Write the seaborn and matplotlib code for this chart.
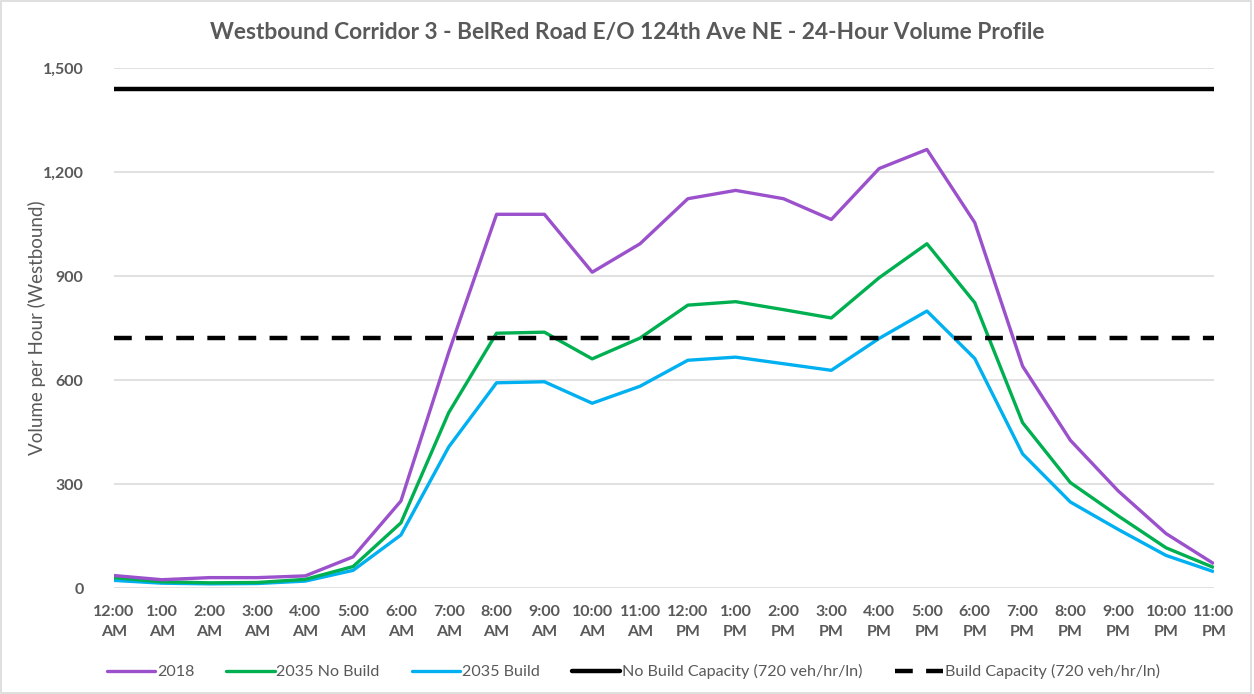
import matplotlib
matplotlib.use("Agg")
import matplotlib.pyplot as plt
import seaborn as sns
import pandas as pd
from matplotlib.patches import Rectangle
from matplotlib.ticker import FuncFormatter

# ---------------- data ----------------
hour_labels = ["12:00\nAM", "1:00\nAM", "2:00\nAM", "3:00\nAM", "4:00\nAM", "5:00\nAM",
               "6:00\nAM", "7:00\nAM", "8:00\nAM", "9:00\nAM", "10:00\nAM", "11:00\nAM",
               "12:00\nPM", "1:00\nPM", "2:00\nPM", "3:00\nPM", "4:00\nPM", "5:00\nPM",
               "6:00\nPM", "7:00\nPM", "8:00\nPM", "9:00\nPM", "10:00\nPM", "11:00\nPM"]

vol_2018 = [36, 24, 30, 30, 35, 90, 251, 680, 1078, 1078, 911, 993,
            1123, 1147, 1123, 1063, 1210, 1265, 1054, 640, 426, 280, 157, 70]
vol_2035_no_build = [30, 18, 15, 16, 25, 62, 188, 506, 735, 738, 661, 721,
                     816, 826, 803, 779, 895, 993, 823, 477, 304, 208, 116, 59]
vol_2035_build = [22, 14, 12, 13, 20, 51, 153, 407, 592, 595, 533, 582,
                  657, 666, 647, 628, 720, 799, 662, 387, 248, 169, 94, 47]
no_build_capacity = 1440
build_capacity = 720

series_names = ["2018", "2035 No Build", "2035 Build",
                "No Build Capacity (720 veh/hr/ln)", "Build Capacity (720 veh/hr/ln)"]
y_ticks = [0, 300, 600, 900, 1200, 1500]

# ---------------- build table ----------------
n = len(hour_labels)
rows = []
for name, vals in zip(series_names,
                      [vol_2018, vol_2035_no_build, vol_2035_build,
                       [no_build_capacity] * n, [build_capacity] * n]):
    for i, v in enumerate(vals):
        rows.append({"hour": i, "volume": v, "series": name})
df = pd.DataFrame(rows)

# ---------------- style ----------------
sns.set_theme(style="white")
plt.rcParams["font.family"] = ["Lato", "DejaVu Sans"]
grey = "#595959"

palette = {
    "2018": "#9B51CC",
    "2035 No Build": "#00B050",
    "2035 Build": "#00B0F0",
    "No Build Capacity (720 veh/hr/ln)": "#000000",
    "Build Capacity (720 veh/hr/ln)": "#000000",
}
dashes = {
    "2018": "",
    "2035 No Build": "",
    "2035 Build": "",
    "No Build Capacity (720 veh/hr/ln)": "",
    "Build Capacity (720 veh/hr/ln)": (4, 3),
}

fig = plt.figure(figsize=(12.54, 6.94), dpi=100)
ax = fig.add_axes([0.0909, 0.1527, 0.968 - 0.0909, 0.902 - 0.1527])

sns.lineplot(data=df, x="hour", y="volume", hue="series", style="series",
             palette=palette, dashes=dashes, hue_order=series_names,
             style_order=series_names, ax=ax, legend=True)

lines = ax.get_lines()
widths = [2.4, 2.4, 2.4, 3.2, 3.2]
zorders = [4, 3, 2, 5, 5]
for ln, w, z in zip(lines[:5], widths, zorders):
    ln.set_linewidth(w)
    ln.set_zorder(z)
    ln.set_solid_capstyle("butt")

ax.set_xlim(0, n - 1)
ax.set_ylim(0, 1500)
ax.set_yticks(y_ticks)
ax.yaxis.set_major_formatter(FuncFormatter(lambda v, p: f"{int(v):,}"))
ax.set_xticks(range(n))
ax.set_xticklabels(hour_labels)
ax.tick_params(axis="both", length=0, colors=grey, labelsize=11.5)
ax.tick_params(axis="x", pad=12)
ax.tick_params(axis="y", pad=22)
for t in ax.get_xticklabels() + ax.get_yticklabels():
    t.set_fontweight("bold")
    t.set_linespacing(1.55)

ax.grid(axis="y", color="#D9D9D9", linewidth=1.1)
ax.set_axisbelow(True)
for s in ax.spines.values():
    s.set_visible(False)

ax.set_xlabel("")
ax.set_ylabel("Volume per Hour (Westbound)", color=grey, fontsize=13.5)
ax.yaxis.set_label_coords(-0.062, 0.5)

fig.text(0.5, 0.953, "Westbound Corridor 3 - BelRed Road E/O 124th Ave NE - 24-Hour Volume Profile",
         ha="center", va="center", fontsize=16.4, fontweight="bold", color=grey)

handles, labels = ax.get_legend_handles_labels()
ax.legend_.remove()
leg = fig.legend(handles, labels, loc="center", bbox_to_anchor=(0.505, 0.032), ncol=5,
                 frameon=False, fontsize=11.6, handlelength=3.0, handletextpad=0.1,
                 columnspacing=2.0, labelcolor=grey)
for h, w in zip(leg.get_lines(), widths):
    h.set_linewidth(w)

fig.add_artist(Rectangle((0.001, 0.001), 0.997, 0.997, transform=fig.transFigure,
                         fill=False, edgecolor="#D9D9D9", linewidth=1.2))

fig.savefig("out.png", dpi=100, facecolor="white")
